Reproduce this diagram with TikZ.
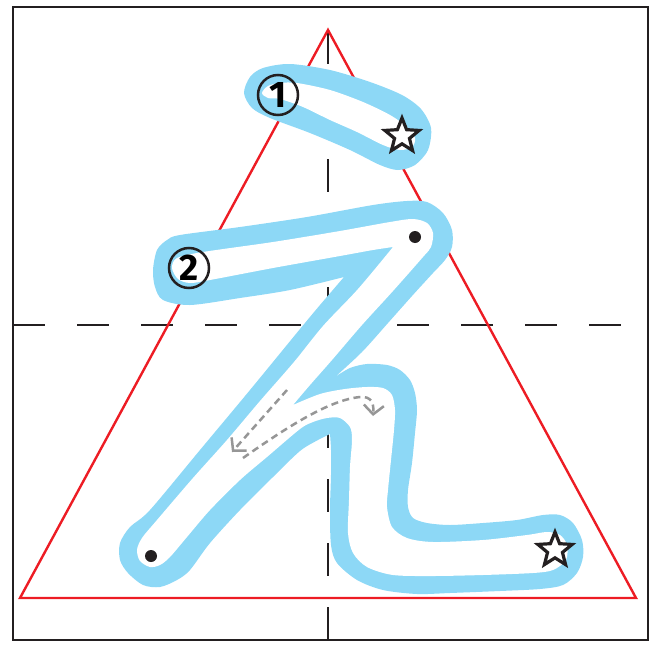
\documentclass[tikz,border=0pt]{standalone}
\usepackage{fontspec}
\newfontfamily\numfont{Fira Sans}
\usetikzlibrary{arrows.meta,shapes}
\definecolor{traceblue}{RGB}{141,216,246}
\definecolor{guidered}{RGB}{237,28,36}
\definecolor{inkgray}{RGB}{35,31,32}
\definecolor{hintgray}{RGB}{150,150,150}
\tikzstyle{outer}=[fill=traceblue]
\tikzstyle{inner}=[fill=white]
\tikzstyle{guide}=[inkgray,line width=2.8pt,dash pattern=on 32pt off 32pt]
\tikzstyle{order}=[circle,draw=inkgray,line width=2.5pt,minimum size=40pt,inner sep=0pt,font=\numfont\bfseries\fontsize{37}{37}\selectfont]
\tikzstyle{startdot}=[circle,fill=inkgray,minimum size=12pt,inner sep=0pt]
\tikzstyle{endstar}=[star,star points=5,star point ratio=2.3,draw=inkgray,line width=3.2pt,fill=white,minimum size=36pt,inner sep=0pt]
\tikzstyle{hint}=[hintgray,line width=2.5pt,dash pattern=on 7pt off 4.5pt,-{Straight Barb[length=9pt,width=20pt]}]

\begin{document}
\begin{tikzpicture}[x=1pt,y=-1pt]
\useasboundingbox (0,0) rectangle (653,645);
\draw[inkgray,line width=2.5pt] (13,7) rectangle (648,640);
\draw[guide] (13,325) -- (630,325);
\draw[guide,dash pattern=on 33pt off 31pt] (328,31) -- (328,640);
\draw[guidered,line width=2.4pt] (328,30) -- (636,598) -- (20,598) -- cycle;
\fill[outer] plot[smooth cycle] coordinates {(244,93) (250,77) (263,68) (290,64) (330,70) (370,82) (402,95) (421,109) (431,128) (428,150) (415,165) (398,170) (380,165) (350,150) (310,133) (270,118) (252,108)};
\fill[inner] plot[smooth cycle] coordinates {(262,93) (268,86) (280,83) (297,83) (330,90) (363,102) (390,115) (407,127) (415,138) (412,147) (400,150) (383,145) (357,132) (330,120) (303,107) (280,99) (268,98)};
\fill[outer] plot[smooth] coordinates {(344,277) (290,290) (240,298) (190,305) (163,300) (155,287) (153,270) (157,250) (167,240) (180,235) (240,227) (307,217) (373,205) (407,201) (427,202) (443,213) (452,230) (452,247) (445,260) (433,273) (412,296) (388,323) (362,352) (335,377)}
  -- plot[smooth] coordinates {(335,377) (350,368) (367,364) (387,365) (400,370) (410,380) (415,393) (417,410) (415,433) (412,463) (408,490) (408,507) (413,518) (427,523) (450,525) (483,523) (517,520) (543,515) (560,515) (573,523) (582,540) (583,557) (577,573) (563,585) (540,589) (500,591) (450,593) (417,594) (383,590) (357,580) (337,563) (331,545) (330,510) (331,475) (331,450) (330,434)}
  -- plot[smooth] coordinates {(330,434) (318,440) (300,451) (273,477) (240,510) (210,543) (190,570) (177,580) (160,587) (143,585) (128,573) (120,560) (120,543) (130,527) (150,510) (200,450) (250,390) (300,329) (320,305) (344,277)} -- cycle;
\fill[inner] plot[smooth] coordinates {(393,247) (373,250) (340,256) (273,268) (210,280) (190,283) (178,279) (172,268) (177,258) (203,252) (273,242) (340,231) (390,222) (413,219) (427,223) (433,233) (431,247) (423,257) (393,291) (362,325) (332,360) (310,385) (293,405)}
  -- plot[smooth] coordinates {(293,405) (320,394) (345,389) (367,387) (383,388) (392,395) (395,410) (394,430) (391,460) (388,490) (387,507) (392,527) (407,538) (433,542) (483,540) (527,535) (547,532) (560,535) (567,545) (566,560) (553,570) (533,573) (483,575) (433,576) (393,575) (367,567) (353,553) (348,533) (349,500) (350,467) (352,440) (350,427) (340,418) (327,418) (313,422) (300,429) (267,457) (240,480) (210,510) (187,537) (170,557) (160,565) (150,567) (140,561) (137,550) (142,538) (157,520) (193,478) (227,440) (260,401) (294,362) (323,326) (358,289) (393,247)} -- cycle;
\node[order] (one) at (278,95) {1};
\node[order] (two) at (189,268) {2};
\node[startdot] (dotA) at (415,237) {};
\node[startdot] (dotB) at (151,556) {};
\node[endstar] (starA) at (402,136) {};
\node[endstar] (starB) at (555,550) {};
\coordinate (backS) at (287,390);
\coordinate (backE) at (232,452);
\coordinate (humpS) at (243,458);
\coordinate (humpE) at (373,416);
\draw[hint] (backS) -- (backE);
\draw[hint] (humpS) .. controls (290,425) and (330,400) .. (360,397) .. controls (372,396) and (374,404) .. (humpE);
\end{tikzpicture}
\end{document}
